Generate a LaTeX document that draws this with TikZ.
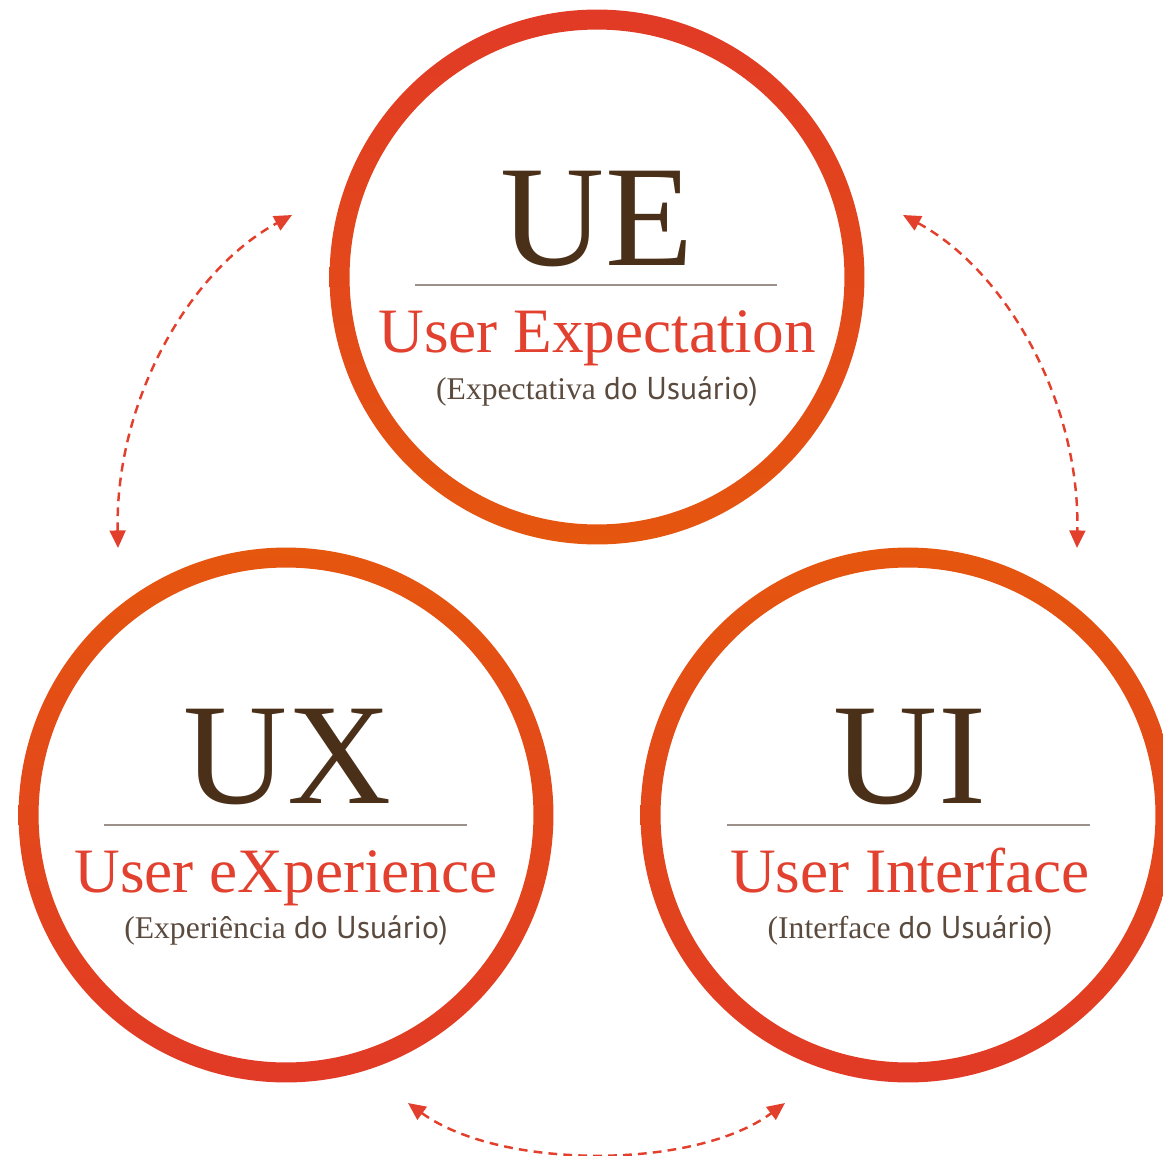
\documentclass[tikz,border=0pt]{standalone}
\usepackage{fontspec}
\setmainfont{Liberation Serif}
\newfontfamily\subsans{PT Sans}
\usetikzlibrary{arrows.meta,positioning}
\definecolor{ringred}{HTML}{E13A26}
\definecolor{ringorange}{HTML}{E5560F}
\definecolor{namebrown}{HTML}{4B3019}
\definecolor{namered}{HTML}{E2412F}
\definecolor{subgray}{HTML}{5B4A3E}
\definecolor{rulegray}{HTML}{9C918A}
\definecolor{linkred}{HTML}{E2402C}
\tikzset{
    bigname/.style={anchor=base,inner sep=0pt,text=namebrown,font=\fontsize{82}{82}\selectfont},
    fullname/.style={anchor=base,inner sep=0pt,text=namered,font=\fontsize{36}{36}\selectfont},
    subname/.style={anchor=base,inner sep=0pt,text=subgray,font=\fontsize{18}{18}\selectfont},
    divider/.style={draw=rulegray,line width=0.8pt},
    link/.style={draw=linkred,line width=1.4pt,dash pattern=on 5pt off 3.5pt,
        {Triangle[length=10pt,width=9pt]}-{Triangle[length=10pt,width=9pt]}}
}

\begin{document}
\begin{tikzpicture}[x=0.02cm,y=-0.02cm]
    \useasboundingbox (0,0) rectangle (1163,1156);
    \clip (0,0) rectangle (1163,1156);
    % circle centres
    \coordinate (ue) at (597,277);
    \coordinate (ux) at (286,815);
    \coordinate (ui) at (908,815);
    % rings
    \shade[even odd rule,top color=ringred,bottom color=ringorange]
        (ue) circle[radius=5.35cm] (ue) circle[radius=4.95cm];
    \shade[even odd rule,top color=ringorange,bottom color=ringred]
        (ux) circle[radius=5.35cm] (ux) circle[radius=4.95cm];
    \shade[even odd rule,top color=ringorange,bottom color=ringred]
        (ui) circle[radius=5.35cm] (ui) circle[radius=4.95cm];
    % UE
    \node[bigname] (uename) at (597,265) {UE};
    \draw[divider] (415,285) -- (777,285);
    \node[fullname] (uefull) at (597,352) {User Expectation};
    \node[subname] (uesub) at (597,399) {(Expectativa {\subsans do Usuário)}};
    % UX
    \node[bigname] (uxname) at (288,803) {UX};
    \draw[divider] (104,825) -- (467,825);
    \node[fullname] (uxfull) at (286,892) {User eXperience};
    \node[subname] (uxsub) at (286,938) {(Experiência {\subsans do Usuário)}};
    % UI
    \node[bigname] (uiname) at (910,803) {UI};
    \draw[divider] (727,825) -- (1090,825);
    \node[fullname] (uifull) at (910,892) {User Interface};
    \node[subname] (uisub) at (910,938) {(Interface {\subsans do Usuário)}};
    % dashed links
    \coordinate (lefttop) at (292,215);
    \coordinate (leftbot) at (118,548);
    \coordinate (righttop) at (903,215);
    \coordinate (rightbot) at (1077,548);
    \coordinate (botleft) at (408,1103);
    \coordinate (botright) at (785,1103);
    \draw[link] (leftbot) .. controls (115,400) and (190,270) .. (lefttop);
    \draw[link] (righttop) .. controls (1005,270) and (1080,400) .. (rightbot);
    \draw[link] (botleft) .. controls (500,1170) and (695,1170) .. (botright);
\end{tikzpicture}
\end{document}
